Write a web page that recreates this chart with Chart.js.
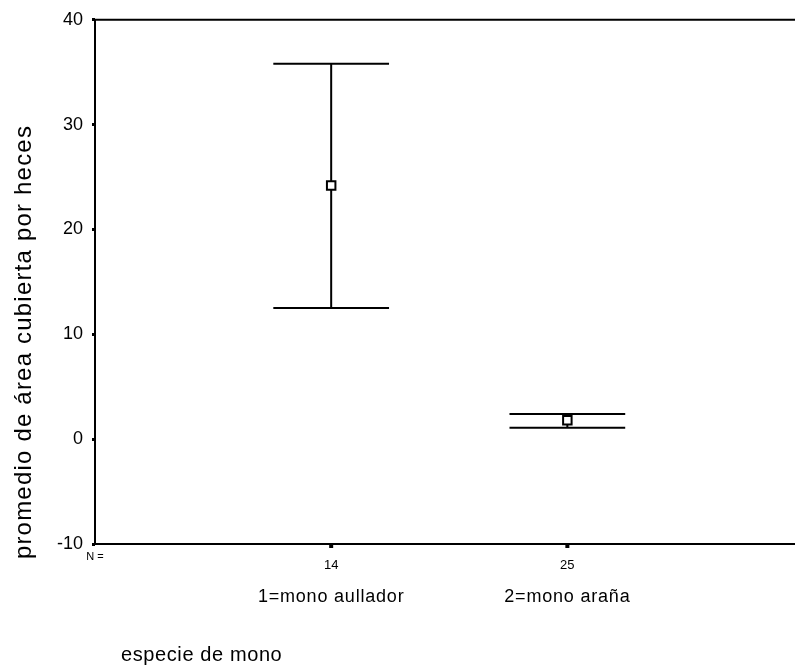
<!DOCTYPE html>
<html>
<head>
<meta charset="utf-8">
<script src="https://cdn.jsdelivr.net/npm/chart.js@4"></script>
<style>
  html, body { margin: 0; padding: 0; background: #fff; overflow: hidden; }
  #wrap { width: 795px; height: 669px; position: relative; }
</style>
</head>
<body>
<div id="wrap"><canvas id="myChart"></canvas></div>
<script>
// === Daten ===
const categories = ['1=mono aullador', '2=mono araña'];
const nValues = [14, 25];
const means = [24.2, 1.8];
const lower = [12.5, 1.1];
const upper = [35.8, 2.4];
const yTicks = [-10, 0, 10, 20, 30, 40];

const FONT = "'Liberation Sans', Arial, sans-serif";

// Fehlerbalken, Rahmen und alle Texte außerhalb der Skalen
const errorBars = {
    id: 'errorBars',
    beforeDatasetsDraw(chart) {
        const ctx = chart.ctx;
        const x = chart.scales.x, y = chart.scales.y;
        ctx.save();
        ctx.strokeStyle = '#000';
        ctx.lineWidth = 2;
        categories.forEach((c, i) => {
            const px = x.getPixelForValue(i + 1);
            const half = x.getPixelForValue(i + 1.245) - px;
            const yHi = y.getPixelForValue(upper[i]);
            const yLo = y.getPixelForValue(lower[i]);
            ctx.beginPath();
            ctx.moveTo(px, yHi); ctx.lineTo(px, yLo);
            ctx.moveTo(px - half, yHi); ctx.lineTo(px + half, yHi);
            ctx.moveTo(px - half, yLo); ctx.lineTo(px + half, yLo);
            ctx.stroke();
        });
        ctx.restore();
    },
    afterDraw(chart) {
        const ctx = chart.ctx;
        const a = chart.chartArea;
        const x = chart.scales.x;
        ctx.save();
        // Rahmen: oben, links, unten
        ctx.strokeStyle = '#000';
        ctx.lineWidth = 2;
        ctx.beginPath();
        ctx.moveTo(chart.width, a.top);
        ctx.lineTo(a.left, a.top);
        ctx.lineTo(a.left, a.bottom);
        ctx.lineTo(chart.width, a.bottom);
        ctx.stroke();

        // N-Werte und Tickmarken
        ctx.fillStyle = '#000';
        ctx.textBaseline = 'middle';
        ctx.textAlign = 'center';
        ctx.font = '11px ' + FONT;
        ctx.fillText('N =', a.left, a.bottom + 13);
        ctx.font = '13px ' + FONT;
        nValues.forEach((n, i) => {
            const px = x.getPixelForValue(i + 1);
            ctx.fillRect(px - 2, a.bottom, 4, 4);
            ctx.fillText(String(n), px, a.bottom + 21);
        });

        // Kategorien
        ctx.letterSpacing = '0.8px';
        ctx.font = '18px ' + FONT;
        categories.forEach((c, i) => {
            ctx.fillText(c, x.getPixelForValue(i + 1), a.bottom + 53);
        });

        // Achsentitel
        ctx.textAlign = 'left';
        ctx.letterSpacing = '0.6px';
        ctx.font = '20px ' + FONT;
        ctx.fillText('especie de mono', 121, 655);

        ctx.translate(24, 342);
        ctx.rotate(-Math.PI / 2);
        ctx.textAlign = 'center';
        ctx.letterSpacing = '1.2px';
        ctx.font = '24px ' + FONT;
        ctx.fillText('promedio de área cubierta por heces', 0, 0);
        ctx.restore();
    }
};

const myChart = new Chart(document.getElementById('myChart'), {
    type: 'scatter',
    data: {
        datasets: [{
            data: means.map((m, i) => ({ x: i + 1, y: m })),
            pointStyle: 'rect',
            pointRadius: 6,
            pointBorderWidth: 2,
            pointBorderColor: '#000',
            pointBackgroundColor: '#fff'
        }]
    },
    options: {
        responsive: true,
        maintainAspectRatio: false,
        animation: false,
        layout: { padding: { top: 15, right: 0, bottom: 0, left: 0 } },
        plugins: {
            legend: { display: false },
            tooltip: { enabled: false }
        },
        scales: {
            x: {
                type: 'linear',
                min: 0,
                max: 2.93,
                afterFit: s => { s.height = 125; },
                border: { display: false },
                grid: { display: false },
                ticks: { display: false }
            },
            y: {
                min: -10,
                max: 40,
                afterBuildTicks: s => { s.ticks = yTicks.map(v => ({ value: v })); },
                afterFit: s => { s.width = 95; },
                border: { display: false },
                grid: { drawOnChartArea: false, tickLength: 3, color: '#000', lineWidth: 3 },
                ticks: {
                    color: '#000',
                    font: { family: FONT, size: 18 },
                    padding: 9
                }
            }
        }
    },
    plugins: [errorBars]
});
</script>
</body>
</html>
